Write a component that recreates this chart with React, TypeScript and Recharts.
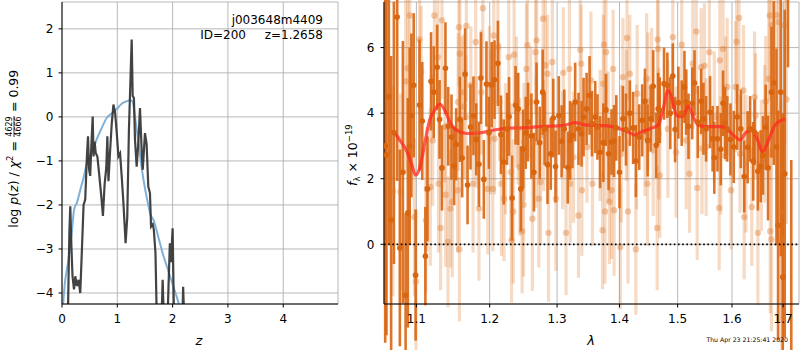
import React from "react";
import {
  LineChart,
  Line,
  XAxis,
  YAxis,
  CartesianGrid,
  ComposedChart,
  Scatter,
  ErrorBar,
  ReferenceLine,
} from "recharts";

const FONT = "DejaVu Sans, Verdana, sans-serif";

// ---------- left panel: log p(z) ----------
const zTicks = [0, 1, 2, 3, 4];
const logpTicks = [-4, -3, -2, -1, 0, 1, 2];

// chi2-based log p(z) (dark jagged curve): [z, log p]
const chi2Curve: [number, number][] = [
  [0.1, -5], [0.133, -2.64], [0.15, -2.03], [0.17, -2.94], [0.19, -3.62], [0.217, -3.92],
  [0.24, -3.62], [0.27, -3.84], [0.3, -3.7], [0.33, -4.0], [0.36, -3.02], [0.39, -2.0],
  [0.42, -1.88], [0.45, -0.9], [0.47, -0.44], [0.49, -1.2], [0.51, -1.34], [0.53, -0.67],
  [0.555, 0.01], [0.57, -0.9], [0.59, -0.56], [0.61, -0.82], [0.64, -0.9], [0.675, -1.34],
  [0.71, -1.8], [0.74, -2.25], [0.77, -1.54], [0.8, -1.16], [0.82, -0.44], [0.84, -1.46],
  [0.87, -0.77], [0.9, -0.14], [0.93, 0.28], [0.96, 0.09], [0.99, -0.36], [1.02, -0.9],
  [1.05, -0.83], [1.08, -1.36], [1.11, -1.95], [1.15, -2.87], [1.18, -2.27], [1.21, -0.29],
  [1.26, 1.76], [1.278, 0.47], [1.3, 0.43], [1.32, -0.52], [1.35, -1.13], [1.38, -0.59],
  [1.41, 0.2], [1.44, -0.75], [1.46, -1.2], [1.5, -0.37], [1.53, -0.62], [1.56, -1.58],
  [1.59, -1.73], [1.61, -2.49], [1.64, -2.44], [1.66, -2.56], [1.69, -3.09], [1.72, -5],
  [1.79, -5], [1.82, -3.7], [1.85, -5], [1.9, -5], [1.92, -4.08], [1.95, -2.87],
  [1.97, -3.3], [2.0, -2.53], [2.03, -5], [2.17, -5], [2.19, -3.86], [2.22, -5],
];

// smooth prior-weighted curve (light blue): [z, log p]
const priorCurve: [number, number][] = [
  [0.0, -4.6], [0.05, -3.8], [0.11, -3.3], [0.17, -2.7], [0.22, -2.1], [0.27, -1.95],
  [0.33, -1.66], [0.39, -1.38], [0.45, -1.05], [0.51, -0.88], [0.57, -0.72], [0.63, -0.5],
  [0.72, -0.25], [0.81, -0.02], [0.9, 0.08], [0.99, 0.18], [1.08, 0.3], [1.14, 0.34],
  [1.2, 0.37], [1.25, 0.38], [1.28, 0.33], [1.32, 0.0], [1.38, -0.55], [1.44, -1.15],
  [1.5, -1.62], [1.56, -2.0], [1.6, -2.22], [1.65, -2.33], [1.74, -2.72], [1.82, -3.1],
  [1.91, -3.45], [2.0, -3.8], [2.09, -4.15], [2.15, -4.4],
];

// ---------- right panel: spectrum ----------
const lamTicks = [1.1, 1.2, 1.3, 1.4, 1.5, 1.6, 1.7];
const fluxTicks = [0, 2, 4, 6];

// dark spectrum: [lambda, flux, error]
const darkSpec: [number, number, number][] = [
  [1.06, 3.0, 6], [1.0616, 2.73, 5.5], [1.0646, 4.5, 4.5], [1.0675, 0.74, 5], [1.071, 3.4, 4],
  [1.0752, 6.93, 5], [1.0786, -0.11, 3], [1.0825, 2.2, 4], [1.086, -1.55, 2.5], [1.0889, 0.96, 3.5],
  [1.0913, 3.0, 3], [1.0935, 3.93, 2.5], [1.0965, 4.85, 2.2], [1.099, -0.94, 2], [1.1041, 4.25, 2],
  [1.1077, 3.76, 1.8], [1.1118, -0.36, 1.5], [1.1146, 1.69, 1.6], [1.1193, 4.97, 1.5], [1.1229, 4.64, 1.4],
  [1.1275, 5.4, 1.3], [1.1307, 3.81, 1.2], [1.1339, 2.33, 1.3], [1.1386, 5.37, 1.4], [1.1424, 3.6, 1.2],
  [1.1468, 3.27, 1.3], [1.1504, 2.39, 1.2], [1.1532, 3.05, 1.1], [1.1583, 3.81, 1.3], [1.1614, 2.63, 1.2],
  [1.1655, 5.19, 1.4], [1.1689, 1.81, 1.2], [1.173, 3.58, 1.3], [1.1771, 3.92, 1.2], [1.181, 3.2, 1.1],
  [1.1848, 2.44, 1.3], [1.1876, 5.07, 1.4], [1.1917, 1.98, 1.2], [1.1954, 4.89, 1.3], [1.1989, 3.4, 1.1],
  [1.2029, 4.87, 1.3], [1.2069, 5.02, 1.2], [1.2118, 5.52, 1.3], [1.2162, 3.34, 1.2], [1.2202, 2.51, 1.3],
  [1.225, 3.52, 1.1], [1.2279, 3.9, 1.2], [1.2324, 1.41, 1.3], [1.2374, 4.24, 1.2], [1.2412, 4.13, 1.1],
  [1.2452, 1.69, 1.3], [1.2485, 2.91, 1.2], [1.2525, 3.4, 1.1], [1.2559, 3.73, 1.2], [1.2609, 3.3, 1.3],
  [1.2647, 2.2, 1.2], [1.2687, 4.34, 1.2], [1.2735, 3.1, 1.1], [1.2779, 4.64, 1.3], [1.2809, 3.52, 1.1],
  [1.2853, 2.43, 1.2], [1.2903, 2.76, 1.1], [1.2941, 3.85, 1.2], [1.2976, 2.37, 1.1], [1.3027, 3.93, 1.2],
  [1.307, 3.14, 1.1], [1.3112, 3.52, 1.2], [1.3166, 2.34, 1.1], [1.3203, 3.17, 1.2], [1.3239, 3.32, 1.0],
  [1.3282, 4.34, 1.2], [1.3335, 3.52, 1.1], [1.3383, 3.37, 1.0], [1.3415, 3.88, 1.2], [1.3463, 4.13, 1.1],
  [1.3511, 4.54, 1.2], [1.3549, 3.68, 1.0], [1.3602, 3.88, 1.1], [1.3638, 3.58, 1.0], [1.3681, 2.81, 1.1],
  [1.3734, 3.1, 1.2], [1.3777, 4.1, 1.1], [1.382, 2.76, 1.1], [1.3868, 3.12, 1.0], [1.3909, 3.15, 1.1],
  [1.3947, 3.55, 1.0], [1.4, 2.2, 1.1], [1.4057, 3.83, 1.0], [1.4108, 3.5, 1.1], [1.4172, 4.0, 1.0],
  [1.4228, 3.55, 1.1], [1.4274, 2.54, 1.1], [1.4331, 3.27, 1.0], [1.4382, 3.78, 1.1], [1.4429, 4.36, 1.0],
  [1.4475, 3.17, 1.1], [1.4527, 3.83, 1.0], [1.4571, 4.82, 1.1], [1.4623, 3.02, 1.0], [1.4657, 4.13, 1.1],
  [1.4686, 4.09, 1.0], [1.476, 4.9, 1.1], [1.4818, 4.85, 1.0], [1.487, 4.0, 1.1], [1.4914, 5.13, 1.0],
  [1.4955, 3.5, 1.0], [1.5013, 4.32, 1.1], [1.5073, 4.0, 1.0], [1.5122, 4.8, 1.1], [1.5153, 4.34, 1.0],
  [1.5195, 3.6, 1.0], [1.5262, 4.3, 1.1], [1.5304, 4.92, 1.0], [1.5364, 3.73, 1.1], [1.5426, 4.36, 1.0],
  [1.5467, 3.83, 1.1], [1.5516, 3.52, 1.0], [1.5589, 4.03, 1.1], [1.5636, 3.22, 1.0], [1.5667, 2.64, 1.1],
  [1.5727, 3.22, 1.0], [1.5789, 2.9, 1.1], [1.5831, 4.3, 1.0], [1.5867, 3.7, 1.1], [1.5909, 3.52, 1.0],
  [1.5971, 3.2, 1.1], [1.6034, 2.97, 1.1], [1.61, 3.88, 1.0], [1.6168, 3.52, 1.2], [1.6234, 2.07, 1.1],
  [1.63, 2.96, 1.1], [1.6348, 3.52, 1.0], [1.6408, 2.53, 1.2], [1.6434, 3.42, 1.0], [1.65, 2.23, 1.2],
  [1.6554, 2.38, 1.1], [1.66, 2.71, 1.2], [1.6654, 3.57, 1.3], [1.67, 2.33, 1.6], [1.6768, 4.64, 2.0],
  [1.6814, 4.92, 2.5], [1.6868, 2.97, 3], [1.69, 0.58, 3.5], [1.6954, 4.64, 5], [1.6994, -1.0, 5],
  [1.7034, 2.15, 5], [1.71, 7.8, 2.4], [1.7167, -2.5, 5.07],
];

// light spectrum: [lambda, flux, error]
const lightSpec: [number, number, number][] = [
  [1.0698, 1.62, 3.2], [1.0794, 1.6, 3.0], [1.0862, 4.97, 2.8], [1.0888, 5.37, 2.6], [1.0914, 6.98, 2.5],
  [1.0974, 0.83, 2.4], [1.0995, -1.13, 2.2], [1.1041, 6.25, 2.3], [1.1063, 5.27, 2.0], [1.1124, 0.73, 2.2],
  [1.1138, 1.69, 1.9], [1.1183, 1.75, 2.4], [1.1215, 3.17, 2.0], [1.1238, 6.98, 2.3], [1.1284, 5.71, 1.8],
  [1.1293, 1.85, 2.1], [1.1321, 0.5, 1.9], [1.1339, 6.83, 2.4], [1.1376, 3.58, 1.7], [1.139, 1.51, 2.2],
  [1.1421, 0.07, 2.0], [1.1454, 1.09, 1.8], [1.1479, 1.29, 2.3], [1.1551, 1.65, 1.9], [1.1559, 4.34, 2.1],
  [1.1569, 6.62, 1.8], [1.1576, -0.15, 2.2], [1.1582, 5.81, 2.0], [1.1606, 4.64, 1.7], [1.1638, 4.2, 2.2],
  [1.1665, 3.88, 1.9], [1.1672, 6.66, 2.3], [1.1734, 4.85, 1.8], [1.1766, 1.85, 2.1], [1.1803, 6.17, 2.0],
  [1.1812, 3.42, 1.7], [1.1848, 1.09, 2.2], [1.1881, 4.64, 1.9], [1.1903, 7.2, 2.1], [1.1972, 1.69, 2.0],
  [1.1996, 4.85, 1.8], [1.201, 3.73, 2.2], [1.2044, 1.69, 1.9], [1.2059, 6.37, 2.1], [1.2069, 3.22, 1.7],
  [1.2118, 6.02, 2.0], [1.2143, 4.34, 1.8], [1.2168, 1.85, 2.2], [1.2206, 1.39, 1.9], [1.2227, 2.91, 2.0],
  [1.2275, 5.71, 1.8], [1.2304, 2.2, 2.1], [1.2315, 0.12, 1.9], [1.234, 1.0, 2.2], [1.2353, 5.78, 1.8],
  [1.2388, 4.34, 2.0], [1.2412, 3.52, 1.7], [1.2437, 2.36, 2.1], [1.2471, 0.4, 1.9], [1.2491, 1.21, 2.2],
  [1.25, 3.12, 1.8], [1.2535, 5.35, 2.0], [1.255, 6.07, 1.9], [1.2599, 4.34, 1.7], [1.2624, 0.78, 2.2],
  [1.2672, 5.86, 1.9], [1.268, 3.12, 2.0], [1.2687, 6.22, 1.8], [1.2721, 1.39, 2.1], [1.2746, 1.9, 1.9],
  [1.2786, 6.88, 2.2], [1.2795, 3.32, 1.7], [1.282, 5.46, 2.0], [1.2853, 5.2, 1.8], [1.2868, 0.35, 2.1],
  [1.2927, 5.56, 1.9], [1.2981, 1.39, 2.2], [1.3086, 2.87, 1.8], [1.3096, 5.23, 2.0], [1.3139, 0.35, 1.9],
  [1.3191, 5.35, 2.1], [1.3203, 1.85, 1.8], [1.3255, 2.66, 2.0], [1.3335, 0.88, 1.9], [1.3362, 5.93, 2.2],
  [1.3378, 5.51, 1.8], [1.3389, 1.65, 2.0], [1.3469, 2.97, 1.7], [1.3533, 5.0, 2.1], [1.3558, 1.85, 1.9],
  [1.3681, 3.32, 2.0], [1.3721, 0.43, 1.8], [1.3734, 4.9, 2.1], [1.3745, 6.09, 1.9], [1.3761, 1.0, 2.2],
  [1.3777, 5.86, 1.8], [1.3814, 3.27, 2.0], [1.3833, 1.3, 1.9], [1.3868, 1.65, 2.1], [1.3894, 5.35, 1.8],
  [1.391, 1.04, 2.0], [1.4012, -0.08, 1.9], [1.4029, 2.76, 2.1], [1.4057, 5.1, 1.8], [1.4115, 3.93, 2.0],
  [1.4125, 6.29, 1.9], [1.4142, 1.0, 2.2], [1.4172, 5.2, 1.8], [1.4274, -0.15, 2.0], [1.4286, 2.97, 1.9],
  [1.4297, 4.59, 2.1], [1.4429, 3.27, 1.8], [1.4458, 5.05, 2.0], [1.4472, 1.85, 1.9], [1.448, 4.36, 2.1],
  [1.4544, 4.8, 1.8], [1.4571, 2.87, 2.0], [1.464, 0.5, 1.9], [1.4647, 6.25, 2.2], [1.4657, 5.96, 1.8],
  [1.4669, 3.37, 2.0], [1.4686, 2.1, 1.9], [1.4828, 3.52, 2.1], [1.4914, 6.32, 1.8], [1.4973, 2.81, 2.0],
  [1.5073, 6.09, 1.9], [1.5153, 3.17, 2.1], [1.5213, 2.15, 1.8], [1.5273, 5.51, 2.0], [1.5335, 6.49, 1.9],
  [1.5353, 1.72, 2.2], [1.5425, 5.4, 1.8], [1.544, 2.92, 2.0], [1.5485, 5.45, 1.9], [1.5516, 2.97, 2.1],
  [1.5576, 5.86, 1.8], [1.5667, 3.88, 2.0], [1.5758, 1.11, 1.9], [1.5771, 5.61, 2.2], [1.5789, 2.71, 1.8],
  [1.5831, 5.96, 2.0], [1.588, 4.44, 1.9], [1.5909, 4.8, 2.1], [1.5982, 1.65, 1.8], [1.6068, 4.8, 2.0],
  [1.6088, 6.18, 1.9], [1.6134, 6.9, 2.2], [1.6154, 2.76, 1.8], [1.622, 4.69, 2.0], [1.6234, 0.83, 1.9],
  [1.6268, 2.46, 2.1], [1.638, 1.14, 1.8], [1.6434, 4.49, 2.0], [1.6454, 3.93, 1.9], [1.65, 0.35, 2.2],
  [1.6568, 2.41, 2.0], [1.6634, 3.37, 2.1], [1.6654, 4.36, 2.0], [1.6714, 5.05, 2.4], [1.6734, 6.98, 2.6],
  [1.6744, 0.4, 2.5], [1.6768, 0.15, 2.8], [1.678, 6.68, 2.7], [1.6868, 6.99, 3.0], [1.6914, 6.78, 3.2],
  [1.6954, 1.0, 3.4], [1.6974, 0.15, 3.5], [1.7034, 6.69, 3.6], [1.7068, 4.42, 3.8],
];

// best-fit model (red): [lambda, flux]
const modelSpec: [number, number][] = [
  [1.0698, 3.48], [1.0785, 3.18], [1.087, 2.87], [1.0935, 2.47], [1.099, 2.11], [1.1043, 2.32],
  [1.111, 3.08], [1.1175, 3.79], [1.1242, 4.09], [1.131, 4.28], [1.1377, 4.09], [1.1445, 3.74],
  [1.1536, 3.48], [1.1674, 3.38], [1.186, 3.4], [1.205, 3.48], [1.2245, 3.54], [1.2534, 3.56],
  [1.2829, 3.6], [1.3078, 3.62], [1.3284, 3.71], [1.344, 3.64], [1.376, 3.62], [1.398, 3.54],
  [1.414, 3.43], [1.426, 3.33], [1.437, 3.43], [1.454, 3.54], [1.466, 3.64], [1.474, 4.09],
  [1.483, 4.7], [1.489, 4.5], [1.498, 3.94], [1.507, 3.89], [1.513, 3.99], [1.519, 4.22],
  [1.528, 3.89], [1.537, 3.64], [1.549, 3.59], [1.58, 3.59], [1.593, 3.48], [1.606, 3.28],
  [1.616, 3.18], [1.625, 3.38], [1.638, 3.48], [1.648, 3.23], [1.659, 2.82], [1.671, 3.18],
  [1.684, 3.64], [1.704, 3.82],
];

const chi2Data = chi2Curve.map(([z, v]) => ({ z, v }));
const priorData = priorCurve.map(([z, v]) => ({ z, v }));
const darkData = darkSpec.map(([x, y, e]) => ({ x, y, e }));
const lightData = lightSpec.map(([x, y, e]) => ({ x, y, e }));
const modelData = modelSpec.map(([x, y]) => ({ x, y }));

const tickStyle = { fill: "#000", fontSize: 12, fontFamily: FONT };
const minus = (v: number) => (v < 0 ? "\u2212" + Math.abs(v) : String(v));

const ORANGE = "#d9650f";

const DarkDot = (p: any) =>
  p.cx == null ? null : <circle cx={p.cx} cy={p.cy} r={2.8} fill={ORANGE} />;
const LightDot = (p: any) =>
  p.cx == null ? null : (
    <circle cx={p.cx} cy={p.cy} r={3.2} fill="#e07a2a" fillOpacity={0.38} />
  );

export default function App() {
  return (
    <div
      style={{
        position: "absolute",
        left: 0,
        top: 0,
        width: 800,
        height: 350,
        background: "#fff",
        fontFamily: FONT,
      }}
    >
      <div style={{ position: "absolute", left: 0, top: 0 }}>
        <LineChart width={340} height={350} margin={{ top: 2, right: 2, left: 0, bottom: 0 }}>
          <CartesianGrid stroke="#b0b0b0" strokeWidth={0.9} />
          <XAxis
            type="number"
            dataKey="z"
            domain={[0, 4.99]}
            ticks={zTicks}
            interval={0}
            allowDataOverflow
            height={46}
            tick={tickStyle}
            tickSize={3.5}
            tickMargin={7}
            tickLine={{ stroke: "#000" }}
            axisLine={{ stroke: "#000" }}
          />
          <XAxis
            xAxisId="top"
            orientation="top"
            type="number"
            domain={[0, 1]}
            height={0}
            tick={false}
            tickLine={false}
            axisLine={{ stroke: "#000" }}
          />
          <YAxis
            type="number"
            domain={[-4.25, 2.61]}
            ticks={logpTicks}
            interval={0}
            allowDataOverflow
            width={62}
            tick={tickStyle}
            tickFormatter={minus}
            tickSize={3.5}
            tickMargin={5}
            tickLine={{ stroke: "#000" }}
            axisLine={{ stroke: "#000" }}
          />
          <YAxis
            yAxisId="right"
            orientation="right"
            type="number"
            domain={[0, 1]}
            width={0}
            tick={false}
            tickLine={false}
            axisLine={{ stroke: "#000" }}
          />
          <Line
            data={priorData}
            dataKey="v"
            type="monotone"
            dot={false}
            stroke="#7fb1d8"
            strokeWidth={2}
            isAnimationActive={false}
          />
          <Line
            data={chi2Data}
            dataKey="v"
            type="linear"
            dot={false}
            stroke="#333333"
            strokeOpacity={0.92}
            strokeWidth={2.2}
            isAnimationActive={false}
          />
        </LineChart>
      </div>

      <div style={{ position: "absolute", left: 340, top: 0 }}>
        <ComposedChart width={460} height={350} margin={{ top: 2, right: 1, left: 0, bottom: 0 }}>
          <CartesianGrid stroke="#b0b0b0" strokeWidth={0.9} />
          <XAxis
            type="number"
            dataKey="x"
            scale="log"
            domain={[1.0585, 1.7325]}
            ticks={lamTicks}
            interval={0}
            allowDataOverflow
            height={46}
            tick={tickStyle}
            tickFormatter={(v: number) => v.toFixed(1)}
            tickSize={3.5}
            tickMargin={7}
            tickLine={{ stroke: "#000" }}
            axisLine={{ stroke: "#000" }}
          />
          <XAxis
            xAxisId="top"
            orientation="top"
            type="number"
            domain={[0, 1]}
            height={0}
            tick={false}
            tickLine={false}
            axisLine={{ stroke: "#000" }}
          />
          <YAxis
            type="number"
            dataKey="y"
            domain={[-1.82, 7.39]}
            ticks={fluxTicks}
            interval={0}
            allowDataOverflow
            width={44}
            tick={tickStyle}
            tickSize={3.5}
            tickMargin={6}
            tickLine={{ stroke: "#000" }}
            axisLine={{ stroke: "#000" }}
          />
          <YAxis
            yAxisId="right"
            orientation="right"
            type="number"
            domain={[0, 1]}
            width={0}
            tick={false}
            tickLine={false}
            axisLine={{ stroke: "#000" }}
          />
          <Scatter data={lightData} shape={LightDot} isAnimationActive={false}>
            <ErrorBar
              dataKey="e"
              direction="y"
              width={0}
              stroke="#e07a2a"
              strokeOpacity={0.28}
              strokeWidth={3.2}
              isAnimationActive={false}
            />
          </Scatter>
          <Scatter data={darkData} shape={DarkDot} isAnimationActive={false}>
            <ErrorBar
              dataKey="e"
              direction="y"
              width={0}
              stroke={ORANGE}
              strokeOpacity={0.9}
              strokeWidth={2.6}
              isAnimationActive={false}
            />
          </Scatter>
          <ReferenceLine y={0} stroke="#000" strokeDasharray="1.6 2.6" strokeWidth={1.8} />
          <Line
            data={modelData}
            dataKey="y"
            type="monotone"
            dot={false}
            stroke="#ff2a20"
            strokeOpacity={0.75}
            strokeWidth={3.2}
            isAnimationActive={false}
          />
        </ComposedChart>
      </div>

      <svg
        width={800}
        height={350}
        style={{ position: "absolute", left: 0, top: 0, pointerEvents: "none" }}
        fontFamily={FONT}
      >
        <text x={323} y={24} textAnchor="end" fontSize={12} fill="#000">
          j003648m4409
        </text>
        <text x={246} y={39} textAnchor="end" fontSize={12} fill="#000">
          ID=200
        </text>
        <text x={323} y={39} textAnchor="end" fontSize={12} fill="#000">
          z=1.2658
        </text>

        <text x={199} y={345} textAnchor="middle" fontSize={13} fontStyle="italic" fill="#000">
          z
        </text>
        <text x={591} y={345} textAnchor="middle" fontSize={13} fontStyle="italic" fill="#000">
          λ
        </text>

        <g transform="translate(18,0) rotate(-90)" fill="#000">
          <text x={-141} y={0} fontSize={12.5} textAnchor="end">
            log{" "}
            <tspan fontStyle="italic">p</tspan>(<tspan fontStyle="italic">z</tspan>) /{" "}
            <tspan fontStyle="italic">χ</tspan>
            <tspan fontSize={8.5} dy={-5}>2</tspan>
            <tspan dy={5}> =</tspan>
          </text>
          <text x={-126.5} y={-6} fontSize={8} textAnchor="middle">4629</text>
          <line x1={-137} x2={-116} y1={-4} y2={-4} stroke="#000" strokeWidth={0.8} />
          <text x={-126.5} y={3} fontSize={8} textAnchor="middle">4666</text>
          <text x={-112} y={0} fontSize={12.5}>= 0.99</text>
        </g>

        <g transform="translate(357,0) rotate(-90)" fill="#000">
          <text x={-186} y={0} fontSize={12.5}>
            <tspan fontStyle="italic">f</tspan>
            <tspan fontSize={8.5} dy={3}>λ</tspan>
            <tspan dy={-3}> × 10</tspan>
            <tspan fontSize={8.5} dy={-5}>−19</tspan>
          </text>
        </g>

        <text x={788} y={342} textAnchor="end" fontSize={6.2} fill="#000">
          Thu Apr 23 21:25:41 2020
        </text>
      </svg>
    </div>
  );
}
